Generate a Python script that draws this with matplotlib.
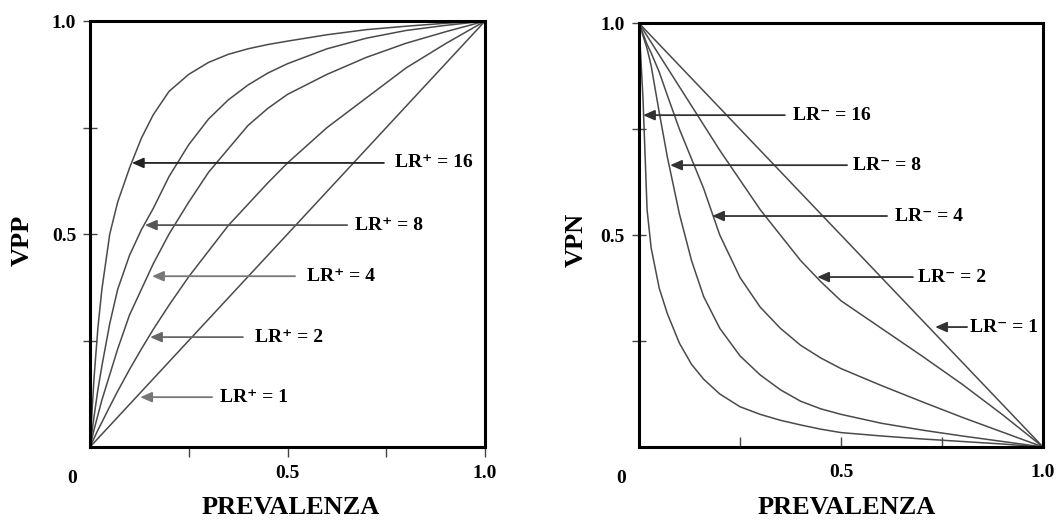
import matplotlib
matplotlib.use('Agg')
import matplotlib.pyplot as plt

# Data
prevalenza = [0.0, 0.01, 0.02, 0.03, 0.05, 0.07, 0.1, 0.13, 0.16, 0.2, 0.25,
              0.3, 0.35, 0.4, 0.45, 0.5, 0.6, 0.7, 0.8, 0.9, 1.0]

# VPP curves (left panel), one per LR+
vpp_lr1 = [0.0, 0.01, 0.02, 0.03, 0.05, 0.07, 0.1, 0.13, 0.16, 0.2, 0.25,
           0.3, 0.35, 0.4, 0.45, 0.5, 0.6, 0.7, 0.8, 0.9, 1.0]
vpp_lr2 = [0.0, 0.02, 0.04, 0.058, 0.095, 0.131, 0.182, 0.23, 0.276, 0.333, 0.40,
           0.46, 0.52, 0.57, 0.62, 0.667, 0.75, 0.82, 0.89, 0.947, 1.0]
vpp_lr4 = [0.0, 0.04, 0.075, 0.11, 0.17, 0.23, 0.31, 0.37, 0.43, 0.50, 0.575,
           0.645, 0.70, 0.755, 0.795, 0.828, 0.875, 0.915, 0.948, 0.975, 1.0]
vpp_lr8 = [0.0, 0.07, 0.135, 0.19, 0.29, 0.37, 0.45, 0.51, 0.56, 0.635, 0.71,
           0.77, 0.815, 0.85, 0.878, 0.90, 0.935, 0.96, 0.978, 0.99, 1.0]
vpp_lr16 = [0.0, 0.16, 0.28, 0.37, 0.50, 0.575, 0.655, 0.725, 0.78, 0.835, 0.875,
            0.903, 0.922, 0.935, 0.945, 0.953, 0.968, 0.98, 0.988, 0.995, 1.0]

# VPN curves (right panel), one per LR-
vpn_lr1 = [1.0, 0.99, 0.98, 0.97, 0.95, 0.93, 0.9, 0.87, 0.84, 0.8, 0.75,
           0.7, 0.65, 0.6, 0.55, 0.5, 0.4, 0.3, 0.2, 0.1, 0.0]
vpn_lr2 = [1.0, 0.985, 0.97, 0.955, 0.925, 0.895, 0.85, 0.805, 0.76, 0.70, 0.63,
           0.56, 0.50, 0.44, 0.39, 0.345, 0.28, 0.215, 0.148, 0.076, 0.0]
vpn_lr4 = [1.0, 0.975, 0.95, 0.93, 0.885, 0.83, 0.75, 0.68, 0.61, 0.50, 0.40,
           0.33, 0.28, 0.24, 0.21, 0.185, 0.145, 0.107, 0.07, 0.035, 0.0]
vpn_lr8 = [1.0, 0.97, 0.94, 0.90, 0.79, 0.685, 0.55, 0.44, 0.355, 0.28, 0.215,
           0.17, 0.135, 0.108, 0.09, 0.077, 0.056, 0.04, 0.026, 0.013, 0.0]
vpn_lr16 = [1.0, 0.82, 0.56, 0.47, 0.375, 0.315, 0.245, 0.195, 0.16, 0.125, 0.095,
            0.077, 0.063, 0.052, 0.042, 0.034, 0.026, 0.019, 0.013, 0.007, 0.0]

lr_labels_pos = ['LR\u207a = 16', 'LR\u207a = 8', 'LR\u207a = 4', 'LR\u207a = 2', 'LR\u207a = 1']
lr_labels_neg = ['LR\u207b = 16', 'LR\u207b = 8', 'LR\u207b = 4', 'LR\u207b = 2', 'LR\u207b = 1']

# arrow placement: (tip x, y, tail x, text x) in data units
arrows_left = [(0.106, 0.667, 0.744, 0.772),
               (0.139, 0.521, 0.651, 0.671),
               (0.157, 0.401, 0.519, 0.549),
               (0.152, 0.258, 0.387, 0.418),
               (0.127, 0.117, 0.309, 0.329)]
arrows_right = [(0.010, 0.783, 0.361, 0.381),
                (0.077, 0.665, 0.515, 0.530),
                (0.181, 0.545, 0.614, 0.634),
                (0.441, 0.401, 0.678, 0.691),
                (0.733, 0.283, 0.812, 0.819)]

FONT = ['Liberation Serif', 'DejaVu Serif']
plt.rcParams['font.family'] = FONT
plt.rcParams['font.weight'] = 'bold'

fig = plt.figure(figsize=(10.59, 5.2), dpi=100)
ax_l = fig.add_axes([0.085, 0.1404, 0.373, 0.819])
ax_r = fig.add_axes([0.6034, 0.1404, 0.3815, 0.815])

curve_color = '#4a4a4a'


def style_axes(ax, xdir):
    ax.set_xlim(0, 1)
    ax.set_ylim(0, 1)
    for s in ax.spines.values():
        s.set_linewidth(2.2)
        s.set_color('black')
    ax.set_xticks([0.25, 0.5, 0.75, 1.0])
    ax.set_xticklabels(['', '0.5', '', '1.0'])
    ax.set_yticks([0.25, 0.5, 0.75, 1.0])
    ax.set_yticklabels(['', '0.5', '', '1.0'])
    xpad = 6 if xdir == 'out' else 12
    ax.tick_params(axis='x', direction=xdir, length=7, width=1, color='#444444',
                   pad=xpad, labelsize=14)
    ax.tick_params(axis='y', direction='inout', length=10, width=1, color='#444444',
                   pad=5, labelsize=14)
    for lab in ax.get_xticklabels() + ax.get_yticklabels():
        lab.set_fontweight('bold')
    ax.text(-0.045, -0.055, '0', transform=ax.transAxes, ha='center', va='top',
            fontsize=14, fontweight='bold')


def draw_arrows(ax, arrows, labels, colors):
    for (tx, ty, sx, lx), lab, c in zip(arrows, labels, colors):
        ax.annotate('', xy=(tx, ty), xytext=(sx, ty),
                    arrowprops=dict(arrowstyle='-|>,head_length=0.5,head_width=0.22',
                                    color=c, lw=1.3, mutation_scale=14,
                                    shrinkA=0, shrinkB=0))
        ax.text(lx, ty, lab, ha='left', va='center', fontsize=14,
                fontweight='bold', family=FONT)


# Left panel: VPP
for vals in [vpp_lr1, vpp_lr2, vpp_lr4, vpp_lr8, vpp_lr16]:
    ax_l.plot(prevalenza, vals, color=curve_color, lw=1.1)
style_axes(ax_l, 'out')
draw_arrows(ax_l, arrows_left, lr_labels_pos,
            ['#222222', '#555555', '#777777', '#666666', '#777777'])

# Right panel: VPN
for vals in [vpn_lr1, vpn_lr2, vpn_lr4, vpn_lr8, vpn_lr16]:
    ax_r.plot(prevalenza, vals, color=curve_color, lw=1.1)
style_axes(ax_r, 'in')
draw_arrows(ax_r, arrows_right, lr_labels_neg, ['#333333'] * 5)

# axis titles
fig.text(291 / 1059, 1 - 507 / 520, 'PREVALENZA', ha='center', va='center',
         fontsize=19, fontweight='bold')
fig.text(847 / 1059, 1 - 507 / 520, 'PREVALENZA', ha='center', va='center',
         fontsize=19, fontweight='bold')
fig.text(22 / 1059, 1 - 240 / 520, 'VPP', ha='center', va='center', rotation=90,
         fontsize=19, fontweight='bold')
fig.text(576 / 1059, 1 - 240 / 520, 'VPN', ha='center', va='center', rotation=90,
         fontsize=19, fontweight='bold')

fig.savefig('out.png', dpi=100, facecolor='white')
